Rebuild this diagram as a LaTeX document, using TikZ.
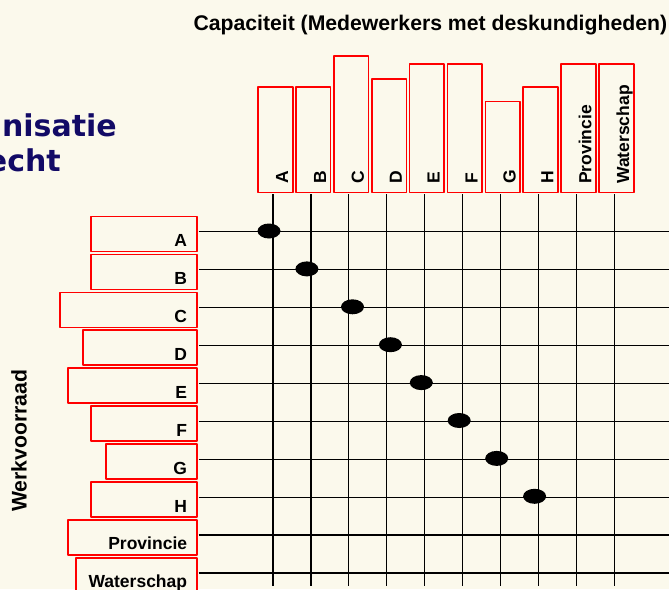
\documentclass[tikz,border=0pt]{standalone}
\usepackage{fontspec}
\setmainfont{Liberation Sans}
\newfontfamily\orgfont{DejaVu Sans}
\usetikzlibrary{shapes.geometric}
\definecolor{paper}{RGB}{251,249,236}
\definecolor{navy}{RGB}{18,10,102}
\tikzset{
  kapbox/.style={draw=red, line width=1.7pt, fill=paper, inner sep=0pt, minimum width=34.7pt},
  lbl/.style={font=\bfseries\fontsize{17.5}{20}\selectfont, inner sep=0pt},
  axislbl/.style={font=\bfseries\fontsize{21.2}{25}\selectfont, inner sep=0pt},
  orglbl/.style={font=\orgfont\bfseries\fontsize{30}{36}\selectfont, text=navy, inner sep=0pt, anchor=base east},
  gridline/.style={line width=1.2pt, shorten <=0.8pt},
  dot/.style={ellipse, fill=black, minimum width=23pt, minimum height=15pt, inner sep=0pt}
}
\begin{document}
\begin{tikzpicture}[x=1pt, y=-1pt, line join=round]
  \useasboundingbox[fill=paper] (0,0) rectangle (669,589);
  \coordinate (bottom) at (0,586);
  \coordinate (right) at (669,0);
  % titel links, afgesneden
  \begin{scope}
    \clip (0,0) rectangle (669,589);
    \node[orglbl] (org) at (117,136) {anisatie};
    \node[orglbl] (plaats) at (61,171.7) {echt};
  \end{scope}
  % assen
  \node[axislbl, anchor=base] (cap) at (430.3,30) {Capaciteit (Medewerkers met deskundigheden)};
  \node[axislbl, rotate=90, anchor=base] (werk) at (26.5,440.8) {Werkvoorraad};
  % capaciteit (kolommen)
  \foreach \n/\top [count=\i from 0] in {A/87.7, B/87.7, C/57, D/80, E/64.7, F/64.7, G/102.3, H/87.7, Provincie/64.7, Waterschap/64.7}
  {
    \node[kapbox, minimum height={193.3-\top}, anchor=south] (t\i) at ({275.3+37.9*\i},193.3) {};
    \node[lbl, rotate=90, anchor=base west] (tl\i) at ([xshift=-5.4pt, yshift=9.3pt]t\i.south east) {\n};
    \draw[gridline] ([xshift=-2.3pt]t\i.south) -- ([xshift=-2.3pt]t\i.south |- bottom);
  }
  % werkvoorraad (rijen)
  \foreach \n/\lft [count=\j from 0] in {A/91.7, B/91.7, C/61, D/84, E/69, F/91.7, G/107, H/91.7, Provincie/69, Waterschap/76.7}
  {
    \node[kapbox, minimum width={197.7-\lft}, minimum height=35pt, anchor=north east] (l\j) at (197.7,{215.7+37.9*\j}) {};
    \node[lbl, anchor=base east] (ll\j) at ([xshift=-10.4pt, yshift=5.7pt]l\j.south east) {\n};
    \draw[gridline] ([yshift=2.2pt]l\j.east) -- ([yshift=2.2pt]l\j.east -| right);
  }
  % koppelingen
  \foreach \dx [count=\k from 0] in {-4,-4,3.7,3.7,-3.3,-3.3,-3.7,-3.7}
    \node[dot] (d\k) at ({273+37.9*\k+\dx},{231+37.9*\k}) {};
\end{tikzpicture}
\end{document}
